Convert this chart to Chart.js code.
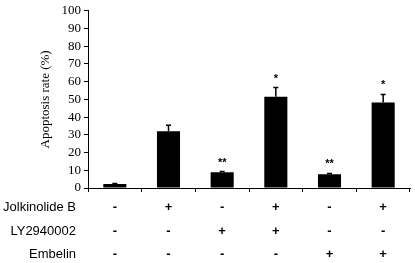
<!DOCTYPE html>
<html>
<head>
<meta charset="utf-8">
<script src="https://cdn.jsdelivr.net/npm/chart.js@4"></script>
<style>
  html, body { margin: 0; padding: 0; background: #fff; }
  #wrap { width: 415px; height: 263px; position: relative; }
</style>
</head>
<body>
<div id="wrap"><canvas id="c" width="415" height="263"></canvas></div>
<script>
// Apoptosis rate bar chart with treatment table underneath
const groups = ['G1', 'G2', 'G3', 'G4', 'G5', 'G6'];
const apoptosis = [2.2, 32, 8.9, 51.5, 7.7, 48.2];
const errUp = [0.3, 3.4, 0.4, 5.2, 0.5, 4.6];
const stars = ['', '', '**', '*', '**', '*'];
const yTicks = [0, 10, 20, 30, 40, 50, 60, 70, 80, 90, 100];

const rowNames = ['Jolkinolide B', 'LY2940002', 'Embelin'];
const jolkinolide = ['-', '+', '-', '+', '-', '+'];
const ly294 = ['-', '-', '+', '+', '-', '-'];
const embelin = ['-', '-', '-', '-', '+', '+'];
const rows = [jolkinolide, ly294, embelin];
const rowY = [207, 231, 254];

const extras = {
  id: 'extras',
  afterDatasetsDraw(chart) {
    const ctx = chart.ctx;
    const x = chart.scales.x, y = chart.scales.y;
    ctx.save();
    // error bars (upper only) + significance marks
    ctx.strokeStyle = '#000';
    ctx.lineWidth = 1.5;
    ctx.fillStyle = '#000';
    ctx.font = 'bold 11px "Liberation Sans", Arial, sans-serif';
    ctx.textAlign = 'center';
    ctx.textBaseline = 'alphabetic';
    groups.forEach((g, i) => {
      const px = x.getPixelForValue(i);
      const top = y.getPixelForValue(apoptosis[i]);
      const eTop = y.getPixelForValue(apoptosis[i] + errUp[i]);
      ctx.beginPath();
      ctx.moveTo(px, top);
      ctx.lineTo(px, eTop);
      ctx.moveTo(px - 2.5, eTop);
      ctx.lineTo(px + 2.5, eTop);
      ctx.stroke();
      if (stars[i]) ctx.fillText(stars[i], px, eTop - 6);
    });
    // y axis title
    ctx.save();
    ctx.translate(46, y.getPixelForValue(50));
    ctx.rotate(-Math.PI / 2);
    ctx.font = '13px "Liberation Serif", "Times New Roman", serif';
    ctx.textBaseline = 'middle';
    ctx.fillText('Apoptosis rate (%)', 0, 0);
    ctx.restore();
    // treatment table
    ctx.font = '13px "Liberation Sans", Arial, sans-serif';
    ctx.textBaseline = 'middle';
    rowNames.forEach((name, r) => {
      ctx.textAlign = 'right';
      ctx.fillText(name, 76, rowY[r]);
      ctx.textAlign = 'center';
      ctx.font = 'bold 13px "Liberation Sans", Arial, sans-serif';
      rows[r].forEach((s, i) => ctx.fillText(s, x.getPixelForValue(i), rowY[r]));
      ctx.font = '13px "Liberation Sans", Arial, sans-serif';
    });
    ctx.restore();
  }
};

new Chart(document.getElementById('c'), {
  type: 'bar',
  data: {
    labels: groups,
    datasets: [{
      data: apoptosis,
      backgroundColor: '#000',
      borderWidth: 0,
      categoryPercentage: 1,
      barPercentage: 0.43
    }]
  },
  options: {
    responsive: false,
    animation: false,
    devicePixelRatio: 1,
    layout: { padding: { top: 7, right: 5, left: 0, bottom: 0 } },
    plugins: { legend: { display: false }, tooltip: { enabled: false } },
    scales: {
      x: {
        offset: true,
        afterFit: s => { s.height = 75; },
        ticks: { display: false },
        grid: { display: true, drawOnChartArea: false, offset: true, tickLength: 4, color: '#000', lineWidth: 1 },
        border: { display: true, color: '#000', width: 1 }
      },
      y: {
        min: 0, max: 100,
        afterFit: s => { s.width = 88; },
        afterBuildTicks: s => { s.ticks = yTicks.map(v => ({ value: v })); },
        ticks: {
          color: '#000',
          padding: 3,
          autoSkip: false,
          font: { family: '"Liberation Serif", "Times New Roman", serif', size: 13 }
        },
        grid: { display: true, drawOnChartArea: false, tickLength: 4, color: '#000', lineWidth: 1 },
        border: { display: true, color: '#000', width: 1 }
      }
    }
  },
  plugins: [extras]
});
</script>
</body>
</html>
